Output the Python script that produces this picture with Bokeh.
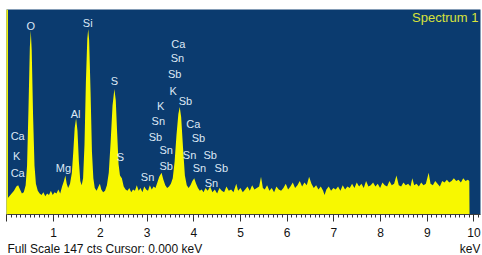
from bokeh.plotting import figure
from bokeh.models import ColumnDataSource, Span, Label, FixedTicker, Range1d
from bokeh.layouts import column
from bokeh.core.properties import value
from bokeh.embed import file_html
from bokeh.resources import INLINE

# ---- data ----
energy_kev = [0.00, 0.05, 0.10, 0.15, 0.20, 0.24, 0.28, 0.32, 0.36, 0.40, 0.43, 0.46, 0.49, 0.51, 0.53, 0.56, 0.59,
              0.62, 0.66, 0.70, 0.74, 0.78, 0.82, 0.86, 0.90, 0.94, 0.98, 1.02, 1.06, 1.10, 1.14, 1.18, 1.22, 1.25,
              1.28, 1.31, 1.35, 1.39, 1.42, 1.45, 1.48, 1.51, 1.54, 1.57, 1.60, 1.63, 1.66, 1.69, 1.72, 1.74, 1.76,
              1.79, 1.82, 1.85, 1.88, 1.92, 1.96, 1.99, 2.02, 2.06, 2.10, 2.14, 2.18, 2.22, 2.26, 2.30, 2.33, 2.36,
              2.39, 2.42, 2.46, 2.50, 2.54, 2.58, 2.62, 2.66, 2.70, 2.74, 2.78, 2.82, 2.86, 2.90, 2.94, 2.98, 3.02,
              3.06, 3.10, 3.14, 3.18, 3.22, 3.26, 3.31, 3.35, 3.39, 3.43, 3.47, 3.51, 3.55, 3.59, 3.63, 3.67, 3.70,
              3.73, 3.77, 3.81, 3.85, 3.89, 3.93, 3.97, 4.01, 4.05, 4.09, 4.13, 4.17, 4.21, 4.25, 4.30, 4.35, 4.40,
              4.45, 4.50, 4.55, 4.60, 4.65, 4.70, 4.75, 4.80, 4.85, 4.91, 4.95, 5.00, 5.05, 5.10, 5.15, 5.20, 5.25,
              5.30, 5.35, 5.40, 5.44, 5.48, 5.52, 5.57, 5.62, 5.67, 5.72, 5.77, 5.82, 5.87, 5.92, 5.97, 6.02, 6.07,
              6.12, 6.17, 6.22, 6.27, 6.32, 6.37, 6.42, 6.47, 6.52, 6.57, 6.62, 6.67, 6.72, 6.77, 6.80, 6.84, 6.89,
              6.94, 6.99, 7.04, 7.09, 7.14, 7.19, 7.24, 7.29, 7.34, 7.39, 7.44, 7.49, 7.54, 7.59, 7.64, 7.69, 7.74,
              7.79, 7.84, 7.89, 7.94, 7.99, 8.04, 8.09, 8.14, 8.19, 8.24, 8.29, 8.34, 8.39, 8.44, 8.49, 8.54, 8.59,
              8.64, 8.68, 8.72, 8.77, 8.82, 8.87, 8.92, 8.97, 9.03, 9.07, 9.12, 9.17, 9.22, 9.27, 9.32, 9.37, 9.42,
              9.47, 9.52, 9.57, 9.62, 9.67, 9.72, 9.77, 9.82, 9.87, 9.90, 9.905]
counts = [11, 13, 15, 17, 20, 21, 18, 15, 16, 21, 35, 75, 120, 132, 118, 70, 35,
          22, 17, 15, 14, 16, 13, 15, 14, 17, 14, 16, 15, 18, 15, 20, 24, 28,
          22, 19, 22, 30, 45, 62, 69, 60, 38, 24, 21, 26, 50, 95, 126, 133, 125,
          88, 45, 26, 19, 17, 20, 22, 18, 16, 17, 21, 30, 52, 78, 90, 82, 58,
          36, 28, 26, 20, 18, 17, 19, 16, 18, 17, 21, 17, 19, 16, 20, 18, 17,
          21, 18, 20, 19, 23, 27, 30, 25, 21, 19, 20, 22, 26, 38, 57, 72, 77,
          70, 48, 28, 21, 19, 21, 24, 26, 22, 19, 17, 18, 16, 19, 17, 20, 16,
          18, 15, 19, 17, 16, 20, 17, 18, 16, 22, 17, 19, 16, 18, 20, 17, 21,
          18, 19, 20, 27, 19, 18, 21, 17, 19, 16, 20, 18, 17, 19, 22, 18, 20,
          23, 19, 21, 24, 20, 23, 21, 27, 22, 19, 21, 18, 20, 17, 14, 18, 20,
          17, 19, 18, 20, 17, 21, 18, 20, 19, 22, 19, 23, 20, 22, 19, 24, 20,
          21, 23, 20, 22, 19, 23, 21, 20, 24, 21, 22, 28, 21, 20, 23, 21, 22,
          20, 26, 21, 22, 20, 23, 21, 22, 30, 22, 21, 24, 22, 20, 24, 23, 25,
          23, 24, 26, 24, 25, 23, 26, 24, 25, 24, 0]

label_names = ["O", "Si", "S", "Al", "Ca", "K", "Ca", "Mg", "S", "Sn",
               "Ca", "Sn", "Sb", "K", "Sb", "K", "Sn", "Ca", "Sb", "Sb",
               "Sn", "Sn", "Sb", "Sb", "Sn", "Sb", "Sn"]
label_kev = [0.51, 1.73, 2.30, 1.47, 0.23, 0.21, 0.23, 1.21, 2.43, 3.01,
             3.67, 3.65, 3.59, 3.56, 3.82, 3.29, 3.24, 3.99, 3.18, 4.10,
             3.41, 3.91, 4.35, 3.41, 4.12, 4.59, 4.38]
label_cts = [135.5, 137, 95.4, 72.4, 56.6, 42.3, 30.1, 33.0, 40.9, 27.2,
             122.6, 111.9, 101.1, 88.9, 81.7, 78.1, 67.4, 65.2, 55.9, 54.5,
             46.6, 43.0, 43.0, 35.1, 33.7, 33.7, 22.9]

major_ticks = [0, 1, 2, 3, 4, 5, 6, 7, 8, 9, 10]
full_scale_cts = 147
cursor_kev = 0.0
spectrum_name = "Spectrum 1"
status_text = "Full Scale %d cts  Cursor: %.3f keV" % (full_scale_cts, cursor_kev)
unit_text = "keV"

FONT = "Liberation Sans"
BG = "#0b3b6f"
YEL = "#f8f800"

p = figure(width=482, height=242, output_backend="svg", toolbar_location=None,
           x_range=Range1d(-0.01, 10.14), y_range=Range1d(0, full_scale_cts),
           min_border_left=6, min_border_right=2, min_border_top=9, min_border_bottom=28)
p.background_fill_color = BG
p.border_fill_color = "white"
p.outline_line_color = None
p.grid.visible = False
p.yaxis.visible = False

src = ColumnDataSource(dict(x=energy_kev, y=counts))
p.varea(x="x", y1=0, y2="y", source=src, fill_color=YEL)

p.add_layout(Span(location=cursor_kev, dimension="height", line_color=YEL, line_width=2))

lsrc = ColumnDataSource(dict(x=label_kev, y=label_cts, t=label_names))
p.text(x="x", y="y", text="t", source=lsrc, text_align="center", text_baseline="middle",
       text_font=value(FONT), text_font_size="11px", text_color="#dde8f5")

ax = p.xaxis[0]
ax.ticker = FixedTicker(ticks=major_ticks, minor_ticks=[i / 10 for i in range(0, 102)])
ax.major_label_overrides = {0: ""}
ax.axis_line_color = "#404040"
ax.major_tick_line_color = "#303030"
ax.minor_tick_line_color = "#303030"
ax.major_tick_in = 0
ax.major_tick_out = 7
ax.minor_tick_in = 0
ax.minor_tick_out = 3
ax.major_label_standoff = 6
ax.major_label_text_font = FONT
ax.major_label_text_font_size = "12px"
ax.major_label_text_color = "#111111"

p.add_layout(Label(x=472, y=197, x_units="screen", y_units="screen", text=spectrum_name,
                   text_font=FONT, text_font_size="13px", text_color="#d8e23a",
                   text_baseline="middle", text_align="right"))

# status line below the axis
s = figure(width=482, height=13, output_backend="svg", toolbar_location=None,
           x_range=Range1d(0, 1), y_range=Range1d(0, 1), x_axis_type=None, y_axis_type=None,
           min_border=0, min_border_left=0, min_border_right=0, min_border_top=0, min_border_bottom=0)
s.outline_line_color = None
s.background_fill_color = "white"
s.border_fill_color = "white"
s.grid.visible = False
ssrc = ColumnDataSource(dict(x=[0.002, 1.0], y=[0.5, 0.5], t=[status_text, unit_text], a=["left", "right"]))
s.text(x="x", y="y", text="t", source=ssrc, text_align="a", text_baseline="middle",
       text_font=value(FONT), text_font_size="12px", text_color="#111111")

layout = column(p, s, spacing=0)
open("out.html", "w").write(file_html(layout, INLINE))
